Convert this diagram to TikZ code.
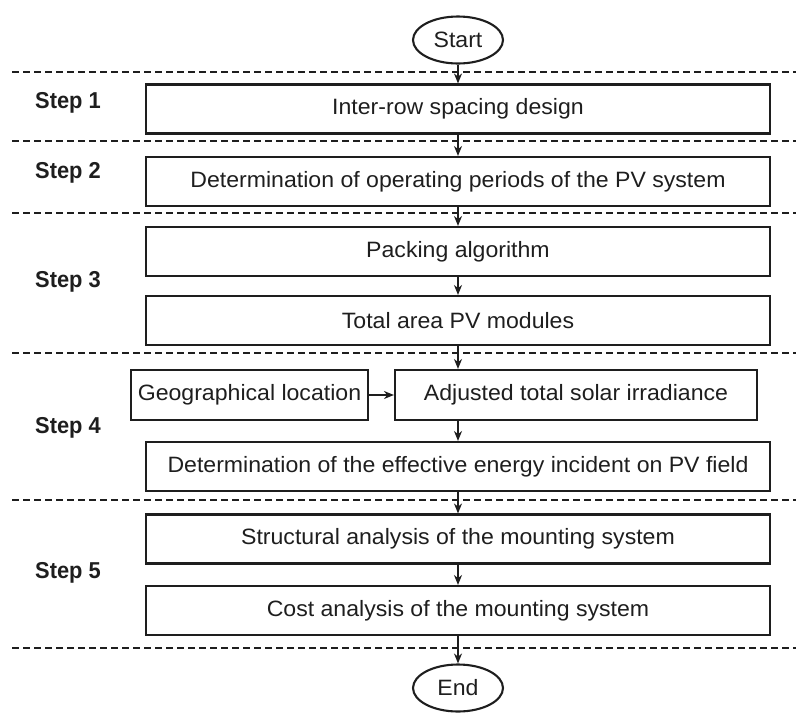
\documentclass[tikz,border=0pt]{standalone}
\usepackage{fontspec}
\setmainfont{Liberation Sans}
\newfontfamily\boxfont[FakeStretch=1.04]{Liberation Sans}
\newfontfamily\stepfont[FakeStretch=0.95]{Liberation Sans}
\usetikzlibrary{arrows.meta,shapes.geometric}
\definecolor{ink}{RGB}{30,30,30}
\begin{document}
\begin{tikzpicture}[x=1pt,y=-1pt,
  box/.style={draw=ink, line width=2.1pt, minimum width=624pt, minimum height=49pt, inner sep=0pt, text=ink, font=\boxfont\fontsize{22.2}{26}\selectfont},
  term/.style={ellipse, draw=ink, line width=2.1pt, minimum width=90pt, minimum height=47pt, inner sep=0pt, text=ink, font=\boxfont\fontsize{22.2}{26}\selectfont},
  steplbl/.style={anchor=west, inner sep=0pt, text=ink, font=\stepfont\bfseries\fontsize{23}{27}\selectfont},
  sepline/.style={draw=ink, line width=2.5pt, dash pattern=on 7pt off 4pt},
  arr/.style={draw=ink, line width=1.6pt, -{Stealth[length=10pt,width=8pt]}}]
\useasboundingbox (0,0) rectangle (796,716);
% separators
\foreach \yy in {72,141,213,353,500,648}
  \draw[sepline] (12,\yy) -- (796,\yy);
% nodes
\node[term] (start) at (458,40) {Start};
\node[box] (b1) at (458,109) {Inter-row spacing design};
\node[box] (b2) at (458,181.5) {Determination of operating periods of the PV system};
\node[box] (b3) at (458,251.5) {Packing algorithm};
\node[box] (b4) at (458,320.5) {Total area PV modules};
\node[box, minimum width=237pt, minimum height=50pt] (geo) at (249.5,395) {Geographical location};
\node[box, minimum width=362pt, minimum height=50pt] (adj) at (576,395) {Adjusted total solar irradiance};
\node[box] (det) at (458,466.5) {Determination of the effective energy incident on PV field};
\node[box] (b6) at (458,539) {Structural analysis of the mounting system};
\node[box] (b7) at (458,610.5) {Cost analysis of the mounting system};
\node[term] (end) at (458,688) {End};
% step labels
\node[steplbl] (s1) at (35,103) {Step 1};
\node[steplbl] (s2) at (35,173) {Step 2};
\node[steplbl] (s3) at (35,282) {Step 3};
\node[steplbl] (s4) at (35,428) {Step 4};
\node[steplbl] (s5) at (35,573) {Step 5};
% connectors
\draw[arr] (start) -- (b1);
\draw[arr] (b1) -- (b2);
\draw[arr] (b2) -- (b3);
\draw[arr] (b3) -- (b4);
\draw[arr] (b4.south) -- (b4.south |- adj.north);
\draw[arr] (geo) -- (adj);
\draw[arr] (adj.south -| det.north) -- (det.north);
\draw[arr] (det) -- (b6);
\draw[arr] (b6) -- (b7);
\draw[arr] (b7) -- (end);
\end{tikzpicture}
\end{document}
